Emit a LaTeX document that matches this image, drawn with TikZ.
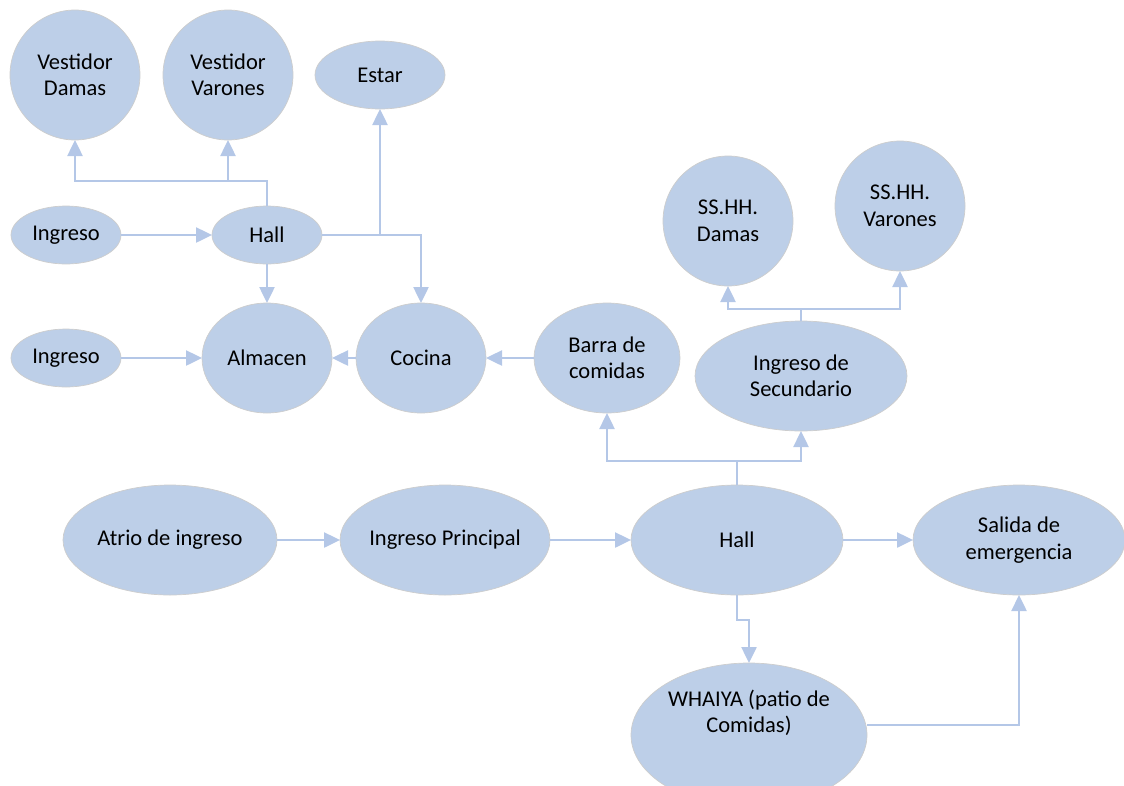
\documentclass[tikz,border=0pt]{standalone}
\usepackage{fontspec}
\setmainfont{Carlito}
\usetikzlibrary{shapes.geometric,arrows.meta,calc}
\definecolor{nodefill}{RGB}{189,207,232}
\definecolor{nodeline}{RGB}{205,205,205}
\definecolor{conncol}{RGB}{180,199,231}
\tikzset{
  ell/.style n args={2}{ellipse, fill=nodefill, draw=nodeline, line width=0.7pt,
    inner sep=0pt, outer sep=0pt, minimum width=#1, minimum height=#2},
  txt/.style={align=center, text=black, font=\fontsize{22.5}{26.5}\selectfont, inner sep=0pt},
  conn/.style={draw=conncol, line width=2.5pt, -{Triangle[length=16pt,width=15pt]}},
}
\begin{document}
\begin{tikzpicture}[x=1pt,y=-1pt]
\useasboundingbox (0,0) rectangle (1124,785);
\clip (0,0) rectangle (1124,785);
% nodes
\node[ell={130pt}{130pt}] (vd) at (75,75) {};
\node[txt] (vdt) at (vd) {Vestidor\\Damas};
\node[ell={130pt}{130pt}] (vv) at (228,75) {};
\node[txt] (vvt) at (vv) {Vestidor\\Varones};
\node[ell={130pt}{68pt}] (est) at (380,75) {};
\node[txt] (estt) at (est) {Estar};
\node[ell={110pt}{58pt}] (ing1) at (66,235) {};
\node[txt] (ing1t) at (ing1) {Ingreso};
\node[ell={110pt}{58pt}] (hall1) at (267,235) {};
\node[txt] (hall1t) at (hall1) {Hall};
\node[ell={110pt}{58pt}] (ing2) at (66,358) {};
\node[txt] (ing2t) at (ing2) {Ingreso};
\node[ell={130pt}{110pt}] (alm) at (267,358) {};
\node[txt] (almt) at (alm) {Almacen};
\node[ell={130pt}{110pt}] (coc) at (421,358) {};
\node[txt] (coct) at (coc) {Cocina};
\node[ell={146pt}{110pt}] (bar) at (607,358) {};
\node[txt] (bart) at (bar) {Barra de\\comidas};
\node[ell={212pt}{110pt}] (isec) at (801,376) {};
\node[txt] (isect) at (isec) {Ingreso de\\Secundario};
\node[ell={130pt}{130pt}] (ssd) at (728,221) {};
\node[txt] (ssdt) at (ssd) {SS.HH.\\Damas};
\node[ell={130pt}{130pt}] (ssv) at (900,206) {};
\node[txt] (ssvt) at (ssv) {SS.HH.\\Varones};
\node[ell={214pt}{110pt}] (atr) at (170,540) {};
\node[txt] (atrt) at (atr) {Atrio de ingreso};
\node[ell={210pt}{110pt}] (ip) at (445,540) {};
\node[txt] (ipt) at (ip) {Ingreso Principal};
\node[ell={212pt}{110pt}] (hall2) at (737,540) {};
\node[txt] (hall2t) at (hall2) {Hall};
\node[ell={212pt}{110pt}] (sal) at (1019,540) {};
\node[txt] (salt) at (sal) {Salida de\\emergencia};
\node[ell={236pt}{144pt}] (wh) at (749,735) {};
\node[txt] (wht) at (749,713) {WHAIYA (patio de\\Comidas)};
% connectors, upper block
\draw[conn] (ing1) -- (hall1);
\draw[conn] (ing2) -- (alm);
\draw[conn] (coc) -- (alm);
\draw[conn] (bar) -- (coc);
\draw[conn] (hall1) -- (alm);
\path (hall1.north) ++(0,-25) coordinate (j1);
\draw[conn] (hall1.north) -- (j1) -| (vd.south);
\draw[conn] (j1 -| vv.south) -- (vv.south);
\draw[conn] (hall1.east) -| (coc.north);
\draw[conn] (hall1.east -| est.south) -- (est.south);
% main hall branches
\path (hall2.north) ++(0,-24) coordinate (j2);
\draw[conn] (hall2.north) -- (j2) -| (bar.south);
\draw[conn] (j2) -| (isec.south);
\path (isec.north) ++(0,-12) coordinate (j3);
\draw[conn] (isec.north) -- (j3) -| (ssd.south);
\draw[conn] (j3) -| (ssv.south);
% bottom row
\draw[conn] (atr) -- (ip);
\draw[conn] (ip) -- (hall2);
\draw[conn] (hall2) -- (sal);
\draw[conn] (hall2.south) -- ++(0,25) -| (wh.north);
\draw[conn] ([yshift=10pt]wh.east) -| (sal.south);
\end{tikzpicture}
\end{document}
